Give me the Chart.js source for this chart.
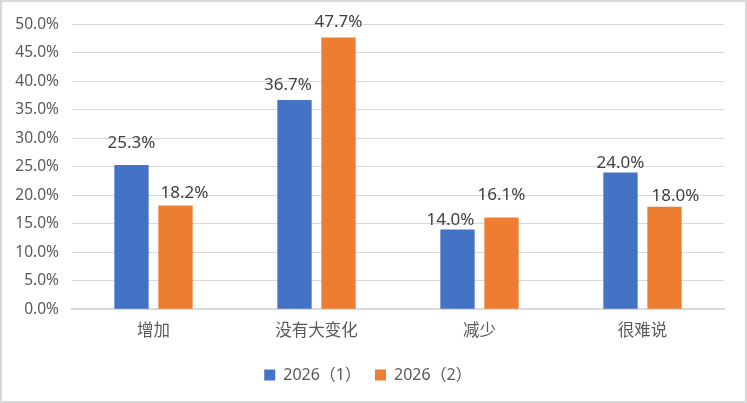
<!DOCTYPE html>
<html>
<head>
<meta charset="utf-8">
<script src="https://cdn.jsdelivr.net/npm/chart.js@4/dist/chart.umd.min.js"></script>
<style>
  html, body { margin: 0; padding: 0; background: #fff; }
  #wrap { width: 747px; height: 403px; box-sizing: border-box; border: 2px solid #d9d9d9; position: relative; }
  canvas { display: block; }
</style>
</head>
<body>
<div id="wrap"><canvas id="chart"></canvas></div>
<script>
const categories = ['增加', '没有大变化', '减少', '很难说'];
const seriesNames = ['2026（1）', '2026（2）'];
const series1 = [25.3, 36.7, 14.0, 24.0];
const series2 = [18.2, 47.7, 16.1, 18.0];
const colors = ['#4472c4', '#ed7d31'];

// hand-placed labels in the original, nudges in px (x shift, gap above bar)
const labelNudge = [
    [[0, 17], [-6.5, 10], [-7, 4], [0, 4]],
    [[9, 7], [0, 10], [0, 17], [11, 6]]
];

const fontFamily = '"Noto Sans", "Noto Sans CJK SC", sans-serif';

// value on top of each bar
const barLabels = {
    id: 'barLabels',
    afterDatasetsDraw(chart) {
        const ctx = chart.ctx;
        ctx.save();
        ctx.font = '17px ' + fontFamily;
        ctx.fillStyle = '#404040';
        ctx.textAlign = 'center';
        ctx.textBaseline = 'alphabetic';
        chart.data.datasets.forEach((ds, i) => {
            chart.getDatasetMeta(i).data.forEach((bar, j) => {
                const n = labelNudge[i][j];
                ctx.fillText(ds.data[j].toFixed(1) + '%', bar.x + n[0], bar.y - n[1]);
            });
        });
        ctx.restore();
    }
};

new Chart(document.getElementById('chart'), {
    type: 'bar',
    data: {
        labels: categories,
        datasets: [
            { label: seriesNames[0], data: series1, backgroundColor: colors[0] },
            { label: seriesNames[1], data: series2, backgroundColor: colors[1] }
        ]
    },
    options: {
        responsive: true,
        maintainAspectRatio: false,
        animation: false,
        categoryPercentage: 0.54,
        barPercentage: 0.78,
        layout: { padding: { top: 18, right: 21, bottom: 8, left: 10 } },
        scales: {
            x: {
                grid: { display: false, drawTicks: false },
                border: { color: '#d9d9d9', width: 2 },
                ticks: { color: '#595959', font: { size: 16.5, family: fontFamily }, padding: 12 }
            },
            y: {
                min: 0,
                max: 50,
                afterFit: scale => { scale.width = 60; },
                ticks: {
                    stepSize: 5,
                    color: '#595959',
                    font: { size: 15.5, family: fontFamily },
                    padding: 13,
                    callback: v => v.toFixed(1) + '%'
                },
                grid: { color: '#d9d9d9', lineWidth: 1, drawTicks: false },
                border: { display: false }
            }
        },
        plugins: {
            legend: {
                position: 'bottom',
                labels: {
                    boxWidth: 11,
                    boxHeight: 11,
                    padding: 14,
                    color: '#595959',
                    font: { size: 16, family: fontFamily }
                }
            },
            tooltip: { enabled: false }
        }
    },
    plugins: [barLabels]
});
</script>
</body>
</html>
